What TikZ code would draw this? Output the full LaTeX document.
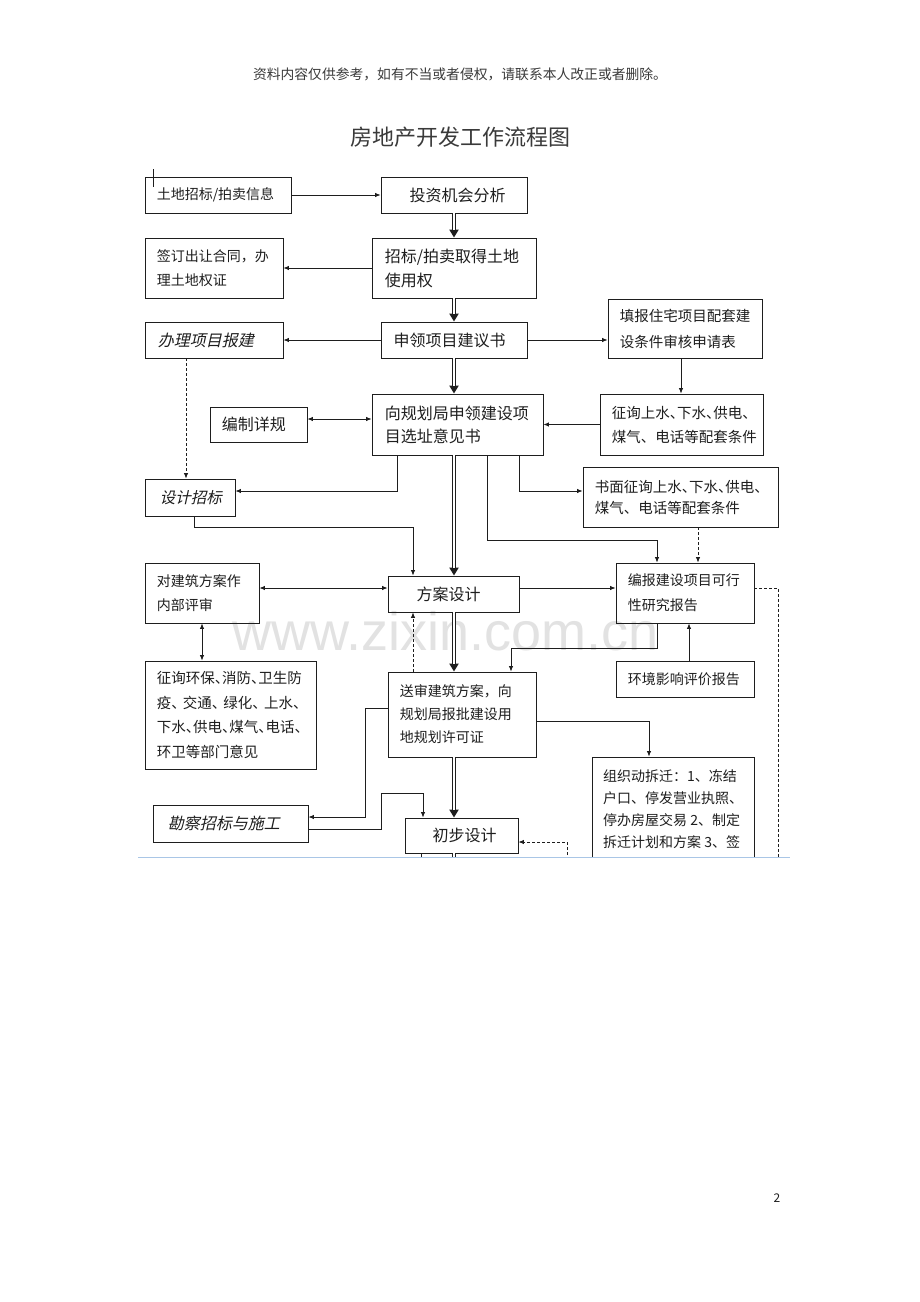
\documentclass[tikz,border=0pt]{standalone}
\usepackage{fontspec}
\setmainfont{Noto Sans CJK SC}
\newfontfamily\itcjk[FakeSlant=0.22]{Noto Sans CJK SC}
\newfontfamily\wmfont{Liberation Sans}
\usetikzlibrary{arrows.meta}
\definecolor{ink}{HTML}{1E1E1E}
\definecolor{wm}{HTML}{E2E2E2}
\definecolor{hdr}{HTML}{3A3A3A}
\definecolor{cutline}{HTML}{A9C6E6}
\newcommand\fs[2]{\fontsize{#1}{#2}\selectfont}
\newcommand\dun{\makebox[0.5em][l]{、}}
\newcommand\dunw{\makebox[0.8em][l]{、}}
\newcommand\bx[5]{\node[box, minimum width={(#4-#2)*1pt}, minimum height={(#5-#3)*1pt}] (#1) at ({(#2+#4)/2},{(#3+#5)/2}) {};}
\newcommand\spine[2]{\draw[spo] (#1) -- (#2); \draw[spi] (#1) -- (#2);}
\begin{document}
\begin{tikzpicture}[x=1pt,y=-1pt,
  box/.style={draw=ink, line width=0.9pt, inner sep=0pt},
  txt/.style={inner sep=0pt, align=left, anchor=west, text=ink},
  ctxt/.style={inner sep=0pt, align=center, text=ink},
  arr/.style={draw=ink, line width=0.8pt, -{Latex[length=5.5pt,width=4.5pt]}},
  darr/.style={arr, {Latex[length=5.5pt,width=4.5pt]}-{Latex[length=5.5pt,width=4.5pt]}},
  dsh/.style={arr, dash pattern=on 3pt off 2pt},
  spo/.style={draw=ink, line width=3.4pt, -{Triangle[length=8pt,width=9pt]}},
  spi/.style={draw=white, line width=1.2pt, shorten >=8pt},
]
\useasboundingbox (0,0) rectangle (920,1302);
\fill[white] (0,0) rectangle (920,1302);

% header, title, watermark, page number
\node[font=\fs{13.8}{16}, text=hdr] (hdr) at (460,74) {资料内容仅供参考，如有不当或者侵权，请联系本人改正或者删除。};
\node[font=\fs{22}{26}, text=hdr] (title) at (460,137) {房地产开发工作流程图};
\node[font=\wmfont\fs{54}{60}, text=wm, anchor=base, inner sep=0pt, text height=28pt, text depth=0pt] (wmk) at (446,650) {www.zixin.com.cn};
\node[font=\fs{12}{14}, text=ink] (pnum) at (777,1198) {2};

% guide coordinates
\coordinate (sp) at (454,0);
\foreach \v in {186,194,202,365,381,397,413,421,423,487,511,519,567,649,657,681,689,698,778}
  {\coordinate (x\v) at (\v,0);}
\foreach \v in {419,491,527,540,588,648,708,721,793,817,829,842,900}
  {\coordinate (y\v) at (0,\v);}

\begin{scope}
\clip (0,0) rectangle (920,857);

% boxes
\bx{tdxx}{145}{177}{291}{213}
\bx{tzjh}{381}{177}{527}{213}
\bx{zbqd}{372}{238}{536}{298}
\bx{qdht}{145}{238}{283}{298}
\bx{blbj}{145}{322}{283}{358}
\bx{sljy}{381}{322}{527}{358}
\bx{tbsq}{608}{299}{762}{358}
\bx{bzxg}{210}{407}{307}{442}
\bx{xzyj}{372}{394}{543}{455}
\bx{zxpt}{600}{394}{763}{455}
\bx{sjzb}{145}{479}{235}{516}
\bx{smzx}{583}{467}{778}{527}
\bx{fasj}{388}{576}{519}{612}
\bx{nbps}{145}{563}{259}{623}
\bx{kxyj}{616}{563}{754}{623}
\bx{bmyj}{145}{661}{316}{769}
\bx{hjpj}{616}{661}{754}{697}
\bx{ssxk}{388}{672}{536}{757}
\bx{cqdq}{592}{757}{754}{900}
\bx{kczb}{153}{805}{308}{842}
\bx{cbsj}{405}{818}{518}{853}

% texts
\node[txt, font=\fs{14}{24}] (tdxx-t) at ([xshift=12pt]tdxx.west) {土地招标/拍卖信息};
\node[ctxt, font=\fs{16}{24}] (tzjh-t) at ([xshift=3.5pt]tzjh.center) {投资机会分析};
\node[txt, font=\fs{16}{24}] (zbqd-t) at ([xshift=13pt]zbqd.west) {招标/拍卖取得土地\\使用权};
\node[txt, font=\fs{14}{24}] (qdht-t) at ([xshift=12pt]qdht.west) {签订出让合同，办\\理土地权证};
\node[txt, font=\itcjk\fs{16}{24}] (blbj-t) at ([xshift=13pt]blbj.west) {办理项目报建};
\node[ctxt, font=\fs{16}{24}] (sljy-t) at ([xshift=-4.5pt]sljy.center) {申领项目建议书};
\node[txt, font=\fs{14.5}{26}] (tbsq-t) at ([xshift=12pt]tbsq.west) {填报住宅项目配套建\\设条件审核申请表};
\node[txt, font=\fs{16}{24}] (bzxg-t) at ([xshift=12pt]bzxg.west) {编制详规};
\node[txt, font=\fs{16}{23}] (xzyj-t) at ([xshift=13pt]xzyj.west) {向规划局申领建设项\\目选址意见书};
\node[txt, font=\fs{14.5}{24}] (zxpt-t) at ([xshift=12pt]zxpt.west) {征询上水\dun 下水\dun 供电\dun\\煤气\dun\hspace{0.5em}电话等配套条件};
\node[txt, font=\itcjk\fs{15.5}{24}] (sjzb-t) at ([xshift=15pt]sjzb.west) {设计招标};
\node[txt, font=\fs{14.5}{21}] (smzx-t) at ([xshift=12pt]smzx.west) {书面征询上水\dun 下水\dun 供电\dun\\煤气\dun\hspace{0.5em}电话等配套条件};
\node[ctxt, font=\fs{16}{24}] (fasj-t) at ([xshift=-5pt]fasj.center) {方案设计};
\node[txt, font=\fs{14}{24}] (nbps-t) at ([xshift=12pt]nbps.west) {对建筑方案作\\内部评审};
\node[txt, font=\fs{14}{25}] (kxyj-t) at ([xshift=12pt]kxyj.west) {编报建设项目可行\\性研究报告};
\node[txt, font=\fs{14.5}{24.5}] (bmyj-t) at ([xshift=12pt]bmyj.west) {征询环保\dun 消防\dun 卫生防\\疫\dunw 交通\dunw 绿化\dunw 上水\dun\\下水\dun 供电\dun 煤气\dun 电话\dun\\环卫等部门意见};
\node[txt, font=\fs{14}{24}] (hjpj-t) at ([xshift=12pt]hjpj.west) {环境影响评价报告};
\node[txt, font=\fs{14}{23}] (ssxk-t) at ([xshift=12pt]ssxk.west) {送审建筑方案，向\\规划局报批建设用\\地规划许可证};
\node[txt, font=\fs{14}{22}, anchor=north west] (cqdq-t) at (603,769) {组织动拆迁：1、冻结\\户口、停发营业执照、\\停办房屋交易 2、制定\\拆迁计划和方案 3、签\\订拆迁安置协议};
\node[txt, font=\itcjk\fs{16}{24}] (kczb-t) at ([xshift=15pt]kczb.west) {勘察招标与施工};
\node[ctxt, font=\fs{16}{24}] (cbsj-t) at ([xshift=3pt]cbsj.center) {初步设计};

% cursor tick
\draw[draw=ink, line width=1.3pt] ([shift={(9pt,-10pt)}]tdxx.north west) -- ([shift={(9pt,8pt)}]tdxx.north west);

% main spine
\spine{tzjh.south -| sp}{zbqd.north -| sp}
\spine{zbqd.south -| sp}{sljy.north -| sp}
\spine{sljy.south -| sp}{xzyj.north -| sp}
\spine{xzyj.south -| sp}{fasj.north -| sp}
\spine{fasj.south -| sp}{ssxk.north -| sp}
\spine{ssxk.south -| sp}{cbsj.north -| sp}
\draw[draw=ink, line width=3.4pt] (cbsj.south -| sp) -- (sp |- y900);
\draw[draw=white, line width=1.2pt] (cbsj.south -| sp) -- (sp |- y900);

% connectors
\draw[arr] (tdxx.east) -- (tzjh.west);
\draw[arr] (zbqd.west) -- (qdht.east);
\draw[arr] (sljy.west) -- (blbj.east);
\draw[arr] (sljy.east) -- (sljy.east -| tbsq.west);
\draw[dsh] (blbj.south -| x186) -- (sjzb.north -| x186);
\draw[arr] (tbsq.south -| x681) -- (zxpt.north -| x681);
\draw[arr] (zxpt.west) -- (xzyj.east);
\draw[darr] (bzxg.east |- y419) -- (xzyj.west |- y419);
\draw[arr] (xzyj.south -| x397) |- (sjzb.east |- y491);
\draw[arr] (sjzb.south -| x194) |- (y527 -| x413) -- (fasj.north -| x413);
\draw[arr] (xzyj.south -| x519) |- (smzx.west |- y491);
\draw[arr] (xzyj.south -| x487) |- (y540 -| x657) -- (kxyj.north -| x657);
\draw[dsh] (smzx.south -| x698) -- (kxyj.north -| x698);
\draw[darr] (nbps.east |- y588) -- (fasj.west |- y588);
\draw[arr] (fasj.east |- y588) -- (kxyj.west |- y588);
\draw[darr] (nbps.south -| x202) -- (bmyj.north -| x202);
\draw[dsh] (ssxk.north -| x413) -- (fasj.south -| x413);
\draw[arr] (kxyj.south -| x657) |- (y648 -| x511) -- (ssxk.north -| x511);
\draw[arr] (hjpj.north -| x689) -- (kxyj.south -| x689);
\draw[dsh, -] (kxyj.east |- y588) -| (x778 |- y900);
\draw[arr] (ssxk.east |- y721) -| (cqdq.north -| x649);
\draw[arr] (ssxk.west |- y708) -| (y817 -| x365) -- (kczb.east |- y817);
\draw[arr] (kczb.east |- y829) -| (y793 -| x381) -| (cbsj.north -| x423);
\draw[dsh] (x567 |- y900) |- (cbsj.east |- y842);
\draw[draw=ink, line width=0.8pt] (cbsj.south -| x421) -- (x421 |- y900);
\end{scope}

\coordinate (cutl) at (138,857);
\coordinate (cutr) at (790,857);
\draw[draw=cutline, line width=1pt] (cutl) -- (cutr);
\end{tikzpicture}
\end{document}
